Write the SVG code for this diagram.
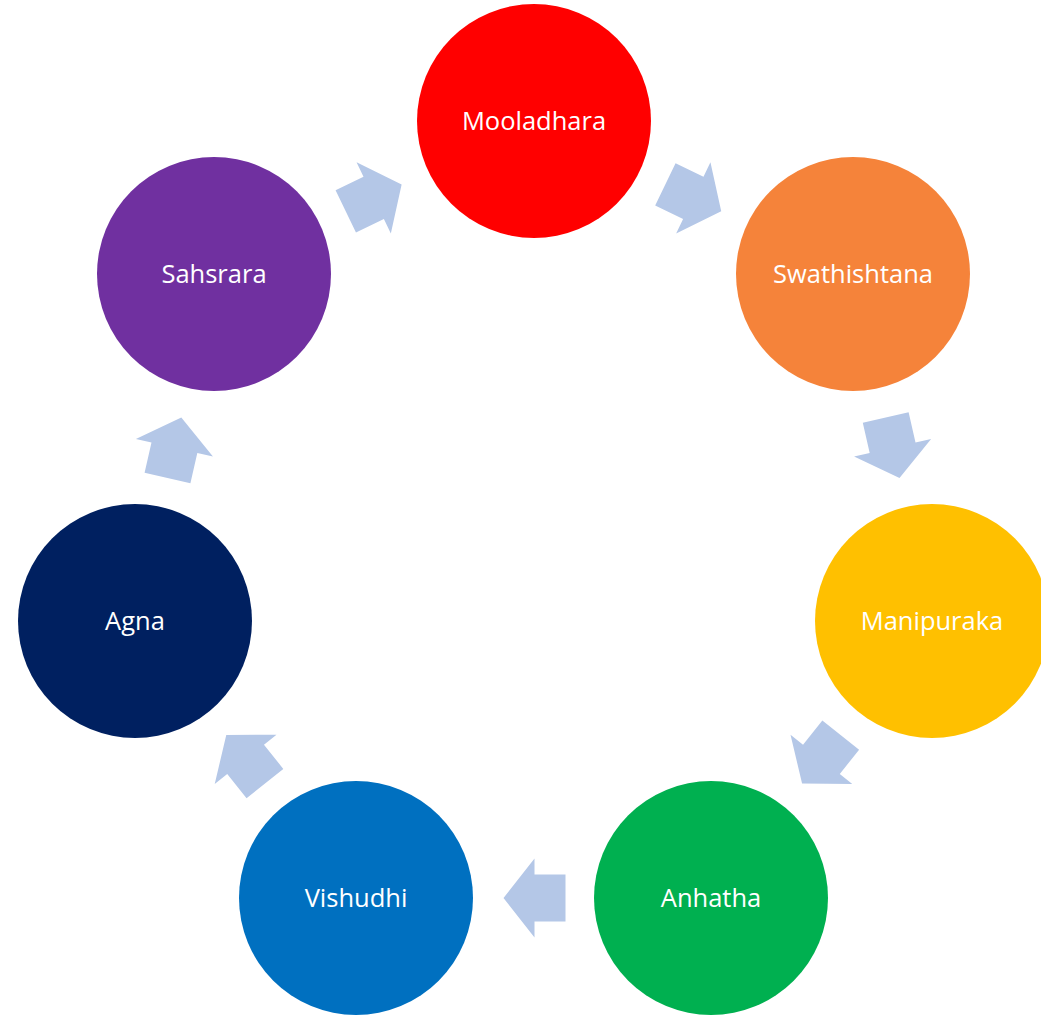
<svg xmlns="http://www.w3.org/2000/svg" xmlns:xlink="http://www.w3.org/1999/xlink" width="1041" height="1015" viewBox="0 0 1041 1015">
<style>
.lbl{font-family:"Open Sans","Liberation Sans",sans-serif;font-size:25.5px;fill:#ffffff;text-anchor:middle}
.arr{fill:#b4c7e7}
</style>
<defs>
<path id="arrow" d="M-31,-23.5 L0,-23.5 L0,-39.5 L31,0 L0,39.5 L0,23.5 L-31,23.5 Z"/>
</defs>
<rect width="1041" height="1015" fill="#ffffff"/>
<g id="connectors" class="arr">
<use xlink:href="#arrow" transform="translate(693.3,197.9) rotate(25.714)"/>
<use xlink:href="#arrow" transform="translate(892.6,447.8) rotate(77.143)"/>
<use xlink:href="#arrow" transform="translate(821.4,759.3) rotate(128.571)"/>
<use xlink:href="#arrow" transform="translate(534.5,898) rotate(180)"/>
<use xlink:href="#arrow" transform="translate(245.6,759.3) rotate(231.429)"/>
<use xlink:href="#arrow" transform="translate(174.4,447.8) rotate(282.857)"/>
<use xlink:href="#arrow" transform="translate(373.7,197.9) rotate(334.286)"/>
</g>
<g id="mooladhara"><circle cx="534" cy="121" r="117" fill="#ff0000"/><text class="lbl" x="534" y="130">Mooladhara</text></g>
<g id="swathishtana"><circle cx="853" cy="274" r="117" fill="#f5833a"/><text class="lbl" x="853" y="283">Swathishtana</text></g>
<g id="manipuraka"><circle cx="932" cy="621" r="117" fill="#ffc000"/><text class="lbl" x="932" y="630">Manipuraka</text></g>
<g id="anhatha"><circle cx="711" cy="898" r="117" fill="#00b050"/><text class="lbl" x="711" y="907">Anhatha</text></g>
<g id="vishudhi"><circle cx="356" cy="898" r="117" fill="#0070c0"/><text class="lbl" x="356" y="907">Vishudhi</text></g>
<g id="agna"><circle cx="135" cy="621" r="117" fill="#002060"/><text class="lbl" x="135" y="630">Agna</text></g>
<g id="sahsrara"><circle cx="214" cy="274" r="117" fill="#7030a0"/><text class="lbl" x="214" y="283">Sahsrara</text></g>
</svg>
